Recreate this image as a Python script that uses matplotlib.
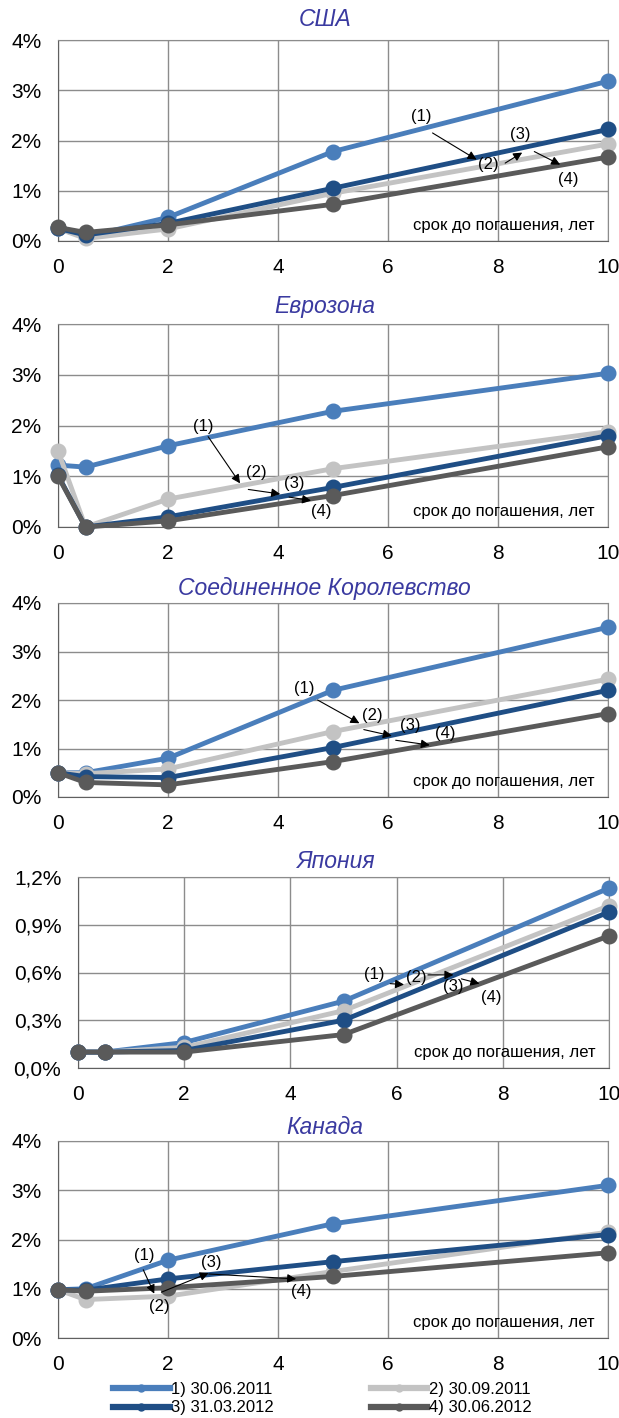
import matplotlib.pyplot as plt
from matplotlib.lines import Line2D

plt.rcParams['font.family'] = ['Liberation Sans', 'DejaVu Sans']

# srok do pogasheniya, let
tenor = [0, 0.5, 2, 5, 10]
dates = ['1) 30.06.2011', '2) 30.09.2011', '3) 31.03.2012', '4) 30.06.2012']
colors = ['#4a7ebb', '#c3c3c3', '#1f4e85', '#5a5a5a']

# yields, % (order: 30.06.2011, 30.09.2011, 31.03.2012, 30.06.2012)
usa = [[0.25, 0.08, 0.47, 1.78, 3.18],
       [0.25, 0.05, 0.24, 0.95, 1.93],
       [0.25, 0.12, 0.35, 1.05, 2.22],
       [0.27, 0.17, 0.32, 0.73, 1.67]]
euro = [[1.22, 1.18, 1.60, 2.28, 3.03],
        [1.50, 0.00, 0.55, 1.15, 1.88],
        [1.02, 0.00, 0.20, 0.78, 1.80],
        [1.00, 0.00, 0.12, 0.62, 1.58]]
uk = [[0.50, 0.50, 0.80, 2.20, 3.50],
      [0.50, 0.48, 0.58, 1.35, 2.43],
      [0.50, 0.42, 0.40, 1.02, 2.20],
      [0.50, 0.30, 0.25, 0.73, 1.72]]
japan = [[0.10, 0.10, 0.16, 0.42, 1.13],
         [0.10, 0.10, 0.13, 0.36, 1.02],
         [0.10, 0.10, 0.11, 0.30, 0.98],
         [0.10, 0.10, 0.10, 0.21, 0.83]]
canada = [[0.98, 1.00, 1.58, 2.32, 3.10],
          [0.98, 0.78, 0.85, 1.35, 2.15],
          [0.98, 0.97, 1.20, 1.55, 2.10],
          [0.98, 0.95, 1.02, 1.25, 1.73]]

titles = ['США', 'Еврозона', 'Соединенное Королевство', 'Япония', 'Канада']
panels = [usa, euro, uk, japan, canada]
yticks = [[0, 1, 2, 3, 4]] * 3 + [[0, 0.3, 0.6, 0.9, 1.2]] + [[0, 1, 2, 3, 4]]
ytick_labels = [['0%', '1%', '2%', '3%', '4%']] * 3 + \
               [['0,0%', '0,3%', '0,6%', '0,9%', '1,2%']] + [['0%', '1%', '2%', '3%', '4%']]

# annotation layout: label -> (text pos), arrows (start, end)
notes = [
    [((6.61, 2.47), (6.81, 2.15), (7.61, 1.62)),
     ((7.82, 1.52), (8.13, 1.55), (8.44, 1.76)),
     ((8.40, 2.12), (8.66, 1.78), (9.13, 1.52)),
     ((9.28, 1.22), None, None)],
    [((2.65, 1.98), (2.73, 1.78), (3.31, 0.86)),
     ((3.60, 1.07), (3.46, 0.74), (4.04, 0.65)),
     ((4.29, 0.86), (4.20, 0.59), (4.60, 0.52)),
     ((4.78, 0.30), None, None)],
    [((4.47, 2.24), (4.72, 2.00), (5.48, 1.52)),
     ((5.72, 1.69), (5.56, 1.39), (6.07, 1.26)),
     ((6.40, 1.48), (6.14, 1.17), (6.76, 1.07)),
     ((7.04, 1.31), None, None)],
    [((5.58, 0.59), (5.88, 0.53), (6.14, 0.524)),
     ((6.37, 0.57), (6.59, 0.585), (7.07, 0.585)),
     ((7.07, 0.51), (7.22, 0.56), (7.56, 0.53)),
     ((7.78, 0.446), None, None)],
    [((1.56, 1.68), (1.55, 1.385), (1.75, 0.90)),
     ((1.84, 0.64), (1.88, 0.93), (2.74, 1.32)),
     ((2.79, 1.53), (2.74, 1.30), (4.33, 1.20)),
     ((4.43, 0.95), None, None)],
]

W, H = 619, 1418
# axes boxes in pixels: left, right, top, bottom
boxes = [(58, 608, 40, 241), (58, 608, 324, 527), (58, 608, 603, 797),
         (78, 609, 877, 1068), (58, 608, 1141, 1338)]
title_off = [20, 17, 15, 15, 14]

fig = plt.figure(figsize=(W / 100, H / 100), dpi=100)

for i, data in enumerate(panels):
    l, r, t, b = boxes[i]
    ax = fig.add_axes([l / W, 1 - b / H, (r - l) / W, (b - t) / H])
    for k, ser in enumerate(data):
        ax.plot(tenor, ser, color=colors[k], lw=3.5, marker='o', ms=10.5, zorder=3 + k, clip_on=False)
    ax.set_xlim(0, 10)
    ax.set_ylim(yticks[i][0], yticks[i][-1])
    ax.set_xticks([0, 2, 4, 6, 8, 10])
    ax.set_yticks(yticks[i])
    ax.set_yticklabels(ytick_labels[i])
    ax.tick_params(length=0, labelsize=15, pad=12)
    ax.tick_params(axis='x', pad=12)
    ax.grid(True, color='#8c8c8c', lw=1)
    ax.set_axisbelow(True)
    for s in ax.spines.values():
        s.set_color('#8c8c8c')
    ax.spines['left'].set_color('#606060')
    ax.spines['bottom'].set_color('#606060')
    ax.annotate(titles[i], xy=(0.5, 1), xycoords='axes fraction',
                xytext=(-6, title_off[i] * 0.72), textcoords='offset points',
                ha='center', va='center', fontsize=16.5, style='italic', color='#3a3aa0')
    ax.text(0.975, 0.04, 'срок до погашения, лет', transform=ax.transAxes,
            ha='right', va='bottom', fontsize=12, zorder=10)
    for n, (txt, a0, a1) in enumerate(notes[i]):
        ax.text(txt[0], txt[1], '(%d)' % (n + 1), fontsize=12, ha='center', va='center', zorder=10)
        if a0 is not None:
            ax.annotate('', xy=a1, xytext=a0, zorder=10,
                        arrowprops=dict(arrowstyle='-|>', color='black', lw=0.8,
                                        mutation_scale=13, shrinkA=0, shrinkB=0))

handles = [Line2D([], [], color=c, lw=4.5, marker='o', ms=5) for c in colors]
order = [0, 2, 1, 3]
fig.legend([handles[j] for j in order], [dates[j] for j in order], ncol=2,
           loc='upper left', bbox_to_anchor=(113 / W, 1 - 1382 / H), frameon=False,
           fontsize=12, handlelength=3.4, handletextpad=0.1, columnspacing=5.8,
           labelspacing=0.2, borderpad=0, borderaxespad=0)

fig.savefig('out.png', dpi=100)
